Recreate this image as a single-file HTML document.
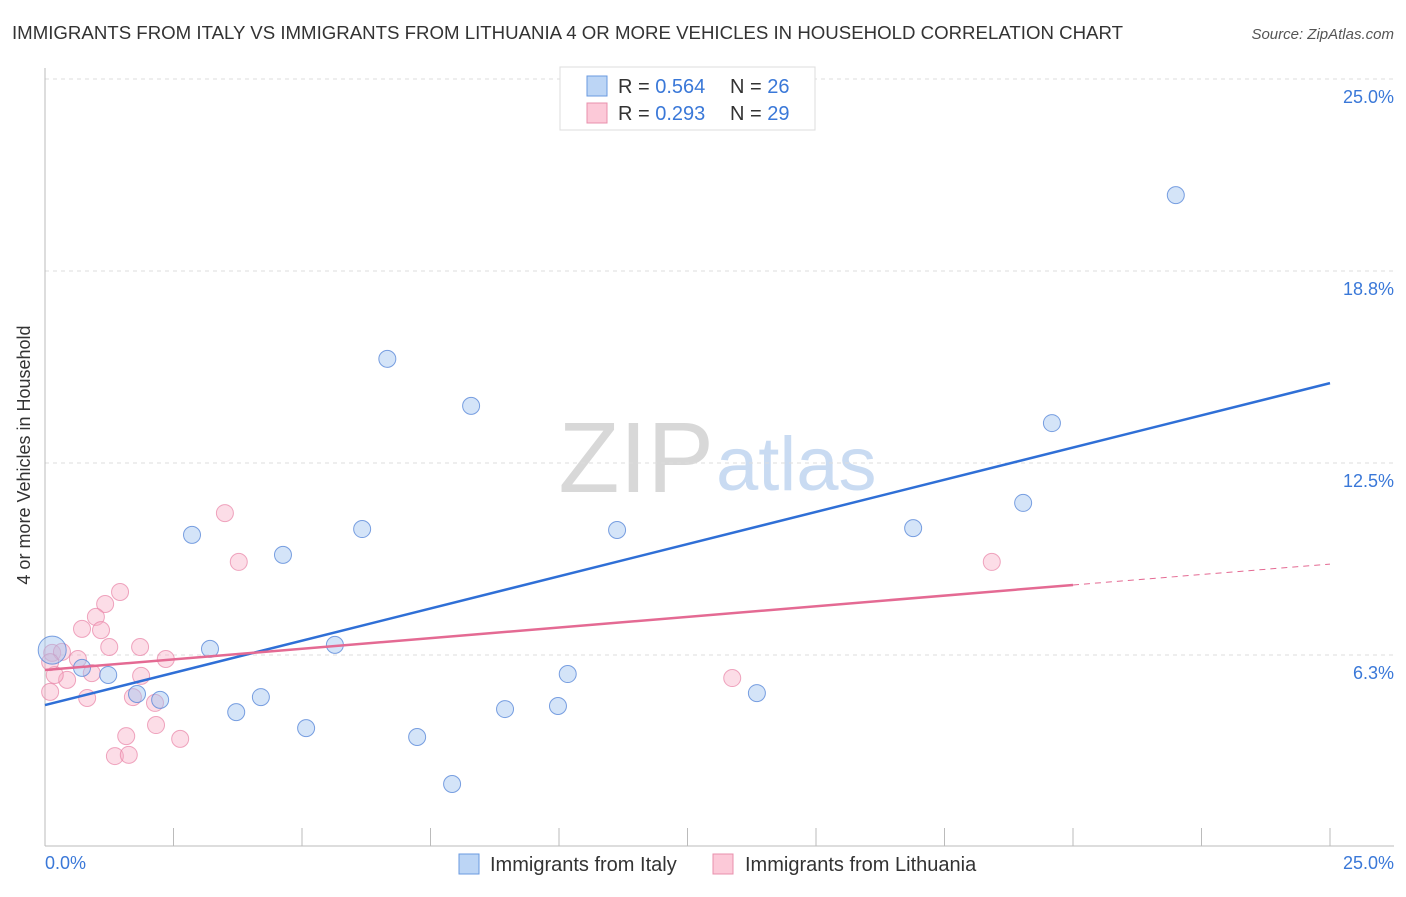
<!DOCTYPE html>
<html><head><meta charset="utf-8"><style>
body{margin:0;background:#fff;font-family:"Liberation Sans",sans-serif}
svg text{font-family:"Liberation Sans",sans-serif}
</style></head><body>
<svg width="1406" height="892" viewBox="0 0 1406 892" xmlns="http://www.w3.org/2000/svg">
<text x="12" y="39" font-size="18" fill="#333" textLength="1111" lengthAdjust="spacingAndGlyphs">IMMIGRANTS FROM ITALY VS IMMIGRANTS FROM LITHUANIA 4 OR MORE VEHICLES IN HOUSEHOLD CORRELATION CHART</text>
<text x="1394" y="39" font-size="15" fill="#555" font-style="italic" text-anchor="end">Source: ZipAtlas.com</text>
<text x="714" y="492" font-size="100" fill="#d8d8d8" font-family="Liberation Serif" text-anchor="end">ZIP</text>
<text x="716" y="490" font-size="76" fill="#c9dbf2">atlas</text>
<g id="grid"></g><g id="axes"></g><g id="marks"></g>
<text x="30" y="455" font-size="18" fill="#333" text-anchor="middle" transform="rotate(-90 30 455)">4 or more Vehicles in Household</text>
<text x="45" y="869" font-size="18" fill="#3a78d8">0.0%</text>
<text x="1394" y="869" font-size="18" fill="#3a78d8" text-anchor="end">25.0%</text>
<g>
<rect x="560" y="67" width="255" height="63" fill="#fff" stroke="#ddd"/>
<rect x="587" y="76" width="20" height="20" fill="#bcd5f5" stroke="#6a9ae0"/>
<rect x="587" y="103" width="20" height="20" fill="#fcc9d8" stroke="#e890ac"/>
<text x="618" y="93" font-size="20" fill="#333">R = <tspan fill="#3a78d8">0.564</tspan></text>
<text x="730" y="93" font-size="20" fill="#333">N = <tspan fill="#3a78d8">26</tspan></text>
<text x="618" y="120" font-size="20" fill="#333">R = <tspan fill="#3a78d8">0.293</tspan></text>
<text x="730" y="120" font-size="20" fill="#333">N = <tspan fill="#3a78d8">29</tspan></text>
</g>
<g>
<rect x="459" y="854" width="20" height="20" fill="#bcd5f5" stroke="#6a9ae0"/>
<text x="490" y="871" font-size="20" fill="#333">Immigrants from Italy</text>
<rect x="713" y="854" width="20" height="20" fill="#fcc9d8" stroke="#e890ac"/>
<text x="745" y="871" font-size="20" fill="#333">Immigrants from Lithuania</text>
</g>
</svg>
<script>
const yTicks=[6.25,12.5,18.75,25];
const yTickLabels=["6.3%","12.5%","18.8%","25.0%"];
const xTicks=[0,2.5,5,7.5,10,12.5,15,17.5,20,22.5,25];
const italyX=[0.14,0.72,1.23,1.79,2.24,2.86,3.21,3.72,4.20,4.63,5.08,5.64,6.17,6.66,7.24,7.92,8.29,8.95,9.98,10.17,11.13,13.85,16.89,19.03,19.59,22.00];
const italyY=[6.41,5.83,5.60,4.98,4.79,10.16,6.45,4.39,4.88,9.51,3.87,6.58,10.35,15.89,3.58,2.05,14.36,4.49,4.59,5.63,10.32,5.01,10.38,11.20,13.80,21.22];
const lithX=[1.46,1.17,0.99,0.72,1.09,1.25,1.85,0.14,0.33,0.64,2.35,0.91,0.43,0.19,0.10,1.87,1.71,0.82,2.14,2.16,1.58,2.63,1.36,1.63,3.50,3.77,13.37,18.42,0.10];
const lithY=[8.30,7.91,7.49,7.10,7.06,6.51,6.51,6.32,6.35,6.12,6.12,5.66,5.44,5.60,5.05,5.57,4.88,4.85,4.69,3.97,3.61,3.52,2.96,3.00,10.87,9.28,5.50,9.28,6.02];
const italyTrend=[4.62,15.1];
const lithTrend=[5.76,8.53,9.21];
const NS="http://www.w3.org/2000/svg";
const X=v=>45+v/25*1285, Y=v=>847-v/6.25*192;
function mk(tag,attrs,parent){const e=document.createElementNS(NS,tag);for(const k in attrs)e.setAttribute(k,attrs[k]);document.getElementById(parent).appendChild(e);return e;}
yTicks.forEach((t,i)=>{
 const l=mk('line',{x1:45,x2:1394,y1:Y(t),y2:Y(t),stroke:'#ddd','stroke-dasharray':'4,4'},'grid');
 
 
 const tx=mk('text',{x:1394,y:Y(t)+24,'font-size':18,fill:'#3a78d8','text-anchor':'end'},'grid');tx.textContent=yTickLabels[i];
 
 
});
const ax=mk('line',{x1:45,x2:45,y1:68,y2:846,stroke:'#bbb'},'axes');


const bx=mk('line',{x1:45,x2:1394,y1:846,y2:846,stroke:'#bbb'},'axes');


xTicks.forEach(t=>{const l=mk('line',{x1:X(t),x2:X(t),y1:828,y2:846,stroke:'#bbb'},'axes');
 
 });
lithX.forEach((v,i)=>{const c=mk('circle',{cx:X(v),cy:Y(lithY[i]),r:8.5,fill:'rgba(248,170,195,0.4)',stroke:'rgba(232,130,165,0.7)'},'marks');
 
 });
italyX.forEach((v,i)=>{const c=mk('circle',{cx:X(v),cy:Y(italyY[i]),r:i===0?14:8.5,fill:'rgba(160,195,240,0.45)',stroke:'rgba(80,130,215,0.75)'},'marks');
 
 });
const t1=mk('line',{x1:X(0),y1:Y(italyTrend[0]),x2:X(25),y2:Y(italyTrend[1]),stroke:'#2f6fd6','stroke-width':2.5},'marks');


const t2=mk('line',{x1:X(0),y1:Y(lithTrend[0]),x2:X(20),y2:Y(lithTrend[1]),stroke:'#e46a93','stroke-width':2.5},'marks');


const t3=mk('line',{x1:X(20),y1:Y(lithTrend[1]),x2:X(25),y2:Y(lithTrend[2]),stroke:'#e46a93','stroke-width':1,'stroke-dasharray':'6,5'},'marks');


</script>
</body></html>
